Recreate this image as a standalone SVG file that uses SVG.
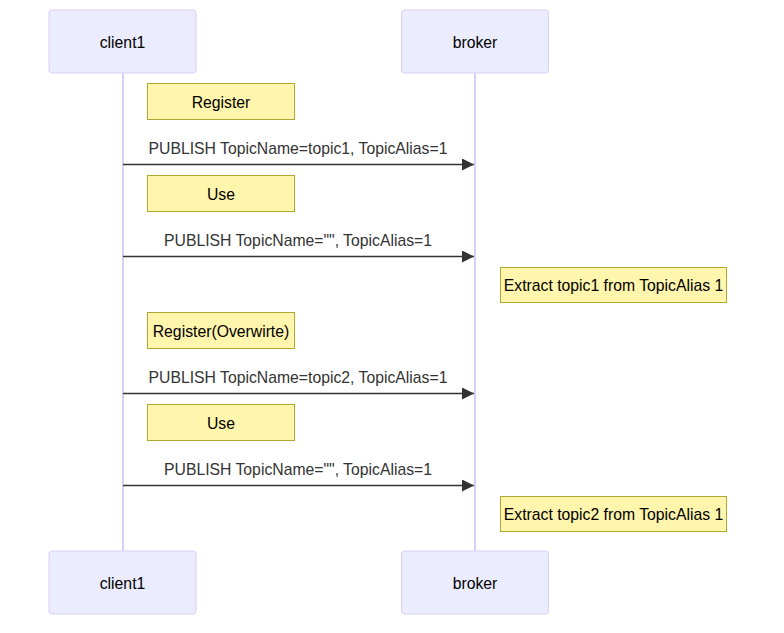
<svg xmlns="http://www.w3.org/2000/svg" width="784" height="633" viewBox="0 0 784 633">
<defs>
<style>
text{font-family:"Liberation Sans",Arial,sans-serif;font-size:15.75px;text-anchor:middle;dominant-baseline:central}
.actor{fill:#ECECFF;stroke:#dacef3;stroke-width:1}
.life{stroke:#dacef3;stroke-width:2}
.note{fill:#fff5ad;stroke:#aaaa33;stroke-width:1}
.msg{stroke:#333;stroke-width:1.5;fill:none;marker-end:url(#arrow)}
.mt{fill:#333}
.nt{fill:#000}
</style>
<marker id="arrow" viewBox="0 0 12 12" refX="12" refY="6" markerWidth="12" markerHeight="12" markerUnits="userSpaceOnUse" orient="auto">
<path d="M0,0 L12,6 L0,12 z" fill="#333"/>
</marker>
</defs>
<rect width="784" height="633" fill="#fff"/>
<g id="lifelines">
<line class="life" x1="123" y1="73" x2="123" y2="551"/>
<line class="life" x1="475" y1="73" x2="475" y2="551"/>
</g>
<g id="client1-top"><rect class="actor" x="49" y="10" width="147" height="63" rx="3"/><text x="122.5" y="42">client1</text></g>
<g id="broker-top"><rect class="actor" x="401.5" y="10" width="147" height="63" rx="3"/><text x="475" y="42">broker</text></g>
<g id="client1-bottom"><rect class="actor" x="49" y="551" width="147" height="63" rx="3"/><text x="122.5" y="583">client1</text></g>
<g id="broker-bottom"><rect class="actor" x="401.5" y="551" width="147" height="63" rx="3"/><text x="475" y="583">broker</text></g>
<g id="note1"><rect class="note" x="147.5" y="83.5" width="147" height="36"/><text class="nt" x="221" y="102">Register</text></g>
<g id="note2"><rect class="note" x="147.5" y="175.5" width="147" height="36"/><text class="nt" x="221" y="194">Use</text></g>
<g id="note3"><rect class="note" x="500.5" y="267.5" width="226" height="35"/><text class="nt" x="613.5" y="285">Extract topic1 from TopicAlias 1</text></g>
<g id="note4"><rect class="note" x="147.5" y="312.5" width="147" height="36"/><text class="nt" x="221" y="331">Register(Overwirte)</text></g>
<g id="note5"><rect class="note" x="147.5" y="404.5" width="147" height="36"/><text class="nt" x="221" y="423">Use</text></g>
<g id="note6"><rect class="note" x="500.5" y="496.5" width="226" height="35"/><text class="nt" x="613.5" y="514">Extract topic2 from TopicAlias 1</text></g>
<g id="connectors">
<line class="msg" x1="123" y1="164.5" x2="474" y2="164.5"/>
<text class="mt" x="298" y="148">PUBLISH TopicName=topic1, TopicAlias=1</text>
<line class="msg" x1="123" y1="256.5" x2="474" y2="256.5"/>
<text class="mt" x="298" y="240">PUBLISH TopicName="", TopicAlias=1</text>
<line class="msg" x1="123" y1="393.5" x2="474" y2="393.5"/>
<text class="mt" x="298" y="377">PUBLISH TopicName=topic2, TopicAlias=1</text>
<line class="msg" x1="123" y1="485.5" x2="474" y2="485.5"/>
<text class="mt" x="298" y="469">PUBLISH TopicName="", TopicAlias=1</text>
</g>
</svg>
